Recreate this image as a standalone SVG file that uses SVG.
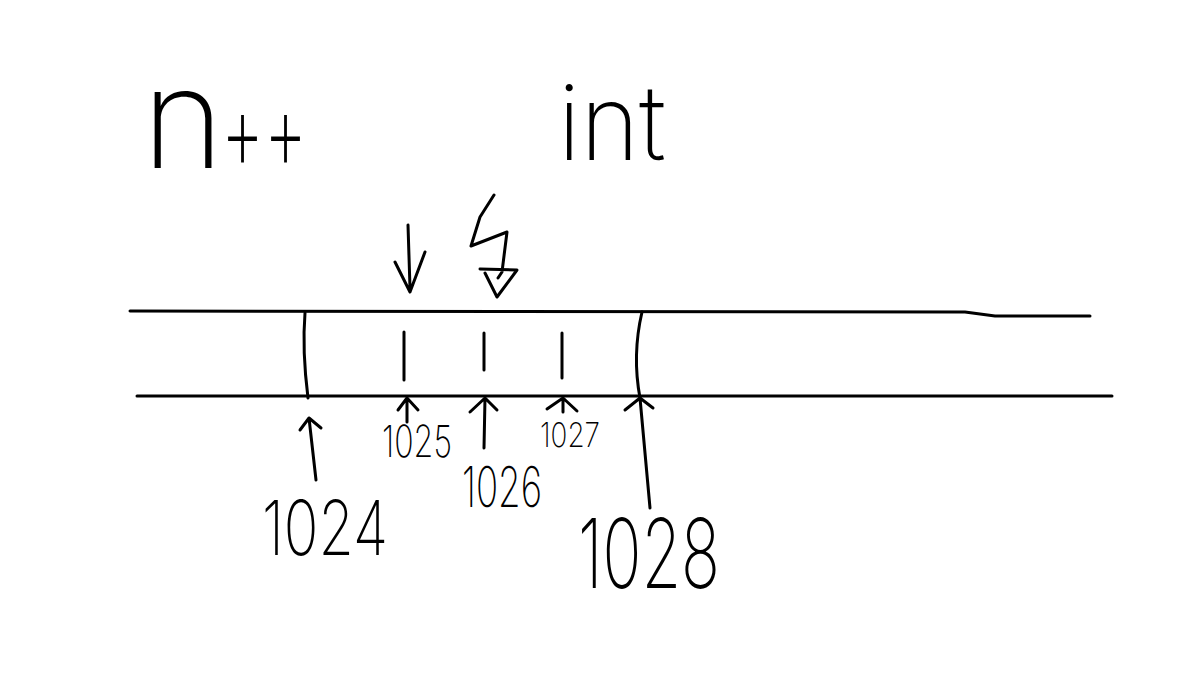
<svg xmlns="http://www.w3.org/2000/svg" width="1178" height="682" viewBox="0 0 1178 682">
<style>
.s{fill:none;stroke:#000;stroke-width:3;stroke-linecap:round;stroke-linejoin:round}
.t{font-family:Inter,"Open Sans",Lato,"Liberation Sans",sans-serif;font-weight:200;fill:#000}
</style>
<rect width="1178" height="682" fill="#fff"/>
<g id="title-n">
<text class="t" x="142" y="168" font-size="140">n</text>
<text class="t" x="221" y="170" font-size="110" textLength="86" lengthAdjust="spacingAndGlyphs">++</text>
</g>
<g id="title-int">
<text class="t" x="558" y="160" font-size="105" textLength="108" lengthAdjust="spacingAndGlyphs">int</text>
</g>
<g id="memory">
<path class="s" d="M130 311 L965 312 L995 316 L1090 316"/>
<path class="s" d="M137 396 L1112 396"/>
<path class="s" d="M305 313 Q302 350 308 398"/>
<path class="s" d="M642 312 Q632 355 640 398"/>
<path class="s" d="M404 332 L404 380"/>
<path class="s" d="M484 333 L484 370"/>
<path class="s" d="M562 333 L562 378"/>
</g>
<g id="markers">
<path class="s" d="M408 225 L410 288 M395 262 L410 292 L425 252"/>
<path class="s" d="M494 195 L480 217 L471 246 L507 232 L502 272 L498 278 M480 269 L517 270 L497 297 L485 273"/>
</g>
<g id="connectors">
<path class="s" d="M316 480 L309 418 M300 430 L309 418 L321 428"/>
<path class="s" d="M407 422 L407 398 M398 410 L407 398 L418 410"/>
<path class="s" d="M484 448 L485 398 M470 412 L485 398 L497 410"/>
<path class="s" d="M563 412 L563 398 M547 409 L563 398 L577 411"/>
<path class="s" d="M650 508 L640 398 M625 410 L640 398 L653 408"/>
</g>
<g id="labels">
<text class="t" x="262" y="555" font-size="76" textLength="126" lengthAdjust="spacingAndGlyphs">1024</text>
<text class="t" x="382" y="457" font-size="44" textLength="70" lengthAdjust="spacingAndGlyphs">1025</text>
<text class="t" x="462" y="507" font-size="56" textLength="80" lengthAdjust="spacingAndGlyphs">1026</text>
<text class="t" x="540" y="447" font-size="34" textLength="60" lengthAdjust="spacingAndGlyphs">1027</text>
<text class="t" x="578" y="588" font-size="96" textLength="142" lengthAdjust="spacingAndGlyphs">1028</text>
</g>
</svg>
